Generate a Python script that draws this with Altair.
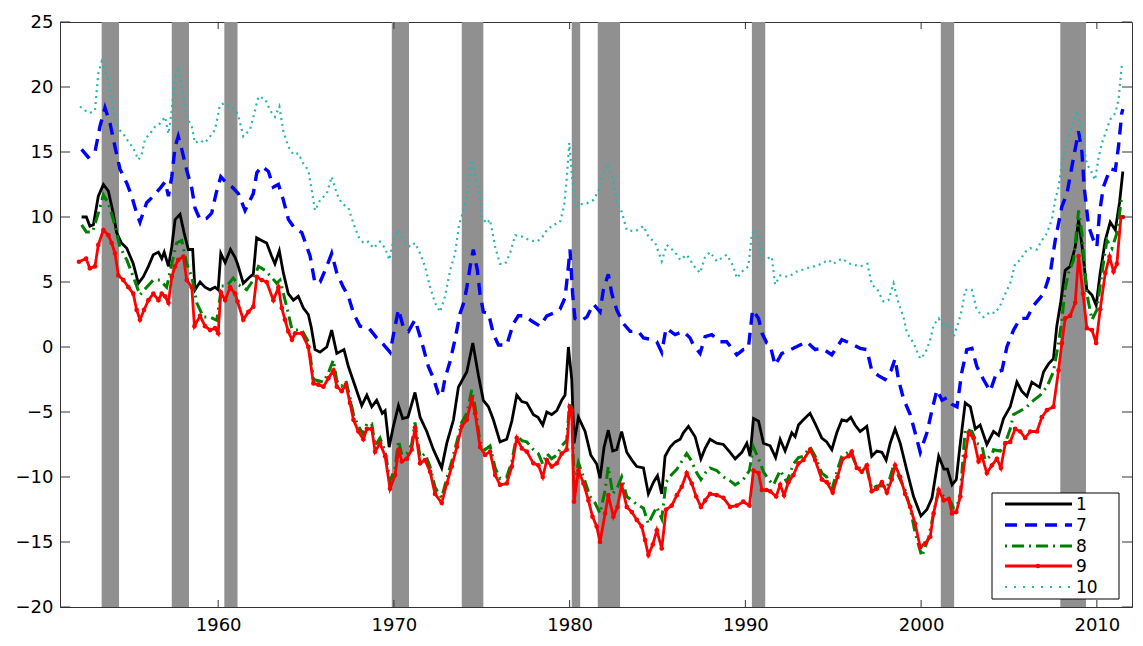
import altair as alt
import pandas as pd

# ---------------- data ----------------
recessions = [(1953.37, 1954.36), (1957.36, 1958.34), (1960.35, 1961.10),
              (1969.88, 1970.86), (1973.86, 1975.09), (1980.12, 1980.60),
              (1981.60, 1982.87), (1990.37, 1991.13), (2001.12, 2001.88),
              (2007.92, 2009.38)]

x_ticks = [1960, 1970, 1980, 1990, 2000, 2010]
y_ticks = [-20, -15, -10, -5, 0, 5, 10, 15, 20, 25]

series_1 = [(1952.23, 10.0), (1952.5, 10.0), (1952.7, 9.3), (1952.9, 9.4), (1953.18, 11.6), (1953.47, 12.5),
            (1953.75, 12.0), (1954.03, 10.3), (1954.22, 8.8), (1954.5, 8.0), (1954.8, 7.6), (1955.17, 6.4),
            (1955.46, 4.9), (1955.74, 5.4), (1956.03, 6.2), (1956.31, 7.1), (1956.6, 7.3), (1956.79, 6.8),
            (1956.93, 7.3), (1957.17, 6.2), (1957.36, 7.7), (1957.55, 9.8), (1957.83, 10.2), (1958.06, 8.8),
            (1958.3, 7.5), (1958.55, 7.5), (1958.68, 4.4), (1958.97, 5.0), (1959.25, 4.6), (1959.54, 4.4),
            (1959.82, 4.6), (1960.0, 4.4), (1960.15, 7.2), (1960.4, 6.5), (1960.7, 7.5), (1960.96, 6.9),
            (1961.1, 6.4), (1961.43, 4.9), (1961.81, 5.4), (1962.0, 5.6), (1962.19, 8.4), (1962.47, 8.2),
            (1962.76, 8.0), (1963.04, 7.0), (1963.23, 6.4), (1963.48, 7.4), (1963.71, 5.7), (1963.99, 4.1),
            (1964.28, 3.6), (1964.56, 3.9), (1964.85, 3.0), (1965.13, 2.5), (1965.3, 1.5), (1965.51, -0.2),
            (1965.8, -0.4), (1966.18, 0.0), (1966.46, 1.3), (1966.75, -0.5), (1967.16, -0.2), (1967.41, -1.5),
            (1967.79, -3.0), (1968.17, -4.5), (1968.46, -3.7), (1968.74, -4.6), (1969.02, -4.1), (1969.34, -5.1),
            (1969.5, -4.9), (1969.73, -7.7), (1969.97, -6.1), (1970.26, -4.5), (1970.5, -5.5), (1970.8, -5.4),
            (1971.2, -3.5), (1971.49, -5.4), (1971.87, -6.5), (1972.25, -7.9), (1972.72, -9.3), (1973.01, -7.4),
            (1973.39, -5.6), (1973.67, -3.1), (1974.15, -1.9), (1974.49, 0.3), (1974.81, -2.2), (1975.09, -4.1),
            (1975.38, -4.6), (1975.66, -5.6), (1976.04, -7.3), (1976.42, -7.1), (1976.71, -5.7), (1976.99, -3.7),
            (1977.28, -4.2), (1977.56, -4.3), (1977.94, -5.2), (1978.2, -5.4), (1978.47, -6.0), (1978.7, -5.0),
            (1978.98, -5.2), (1979.27, -4.9), (1979.55, -4.1), (1979.74, -3.7), (1979.93, 0.0), (1980.12, -2.5),
            (1980.25, -7.4), (1980.5, -5.4), (1980.88, -6.5), (1981.2, -8.3), (1981.54, -9.0), (1981.73, -10.1),
            (1981.96, -7.7), (1982.2, -6.4), (1982.45, -8.0), (1982.68, -7.9), (1982.96, -6.5), (1983.25, -8.1),
            (1983.54, -8.7), (1983.82, -9.2), (1984.2, -9.3), (1984.48, -11.3), (1984.77, -10.4), (1985.0, -9.9),
            (1985.24, -11.3), (1985.43, -8.4), (1985.72, -7.7), (1986.0, -7.3), (1986.29, -7.1), (1986.47, -6.6),
            (1986.76, -6.1), (1987.14, -6.9), (1987.47, -8.6), (1987.71, -7.8), (1987.99, -7.1), (1988.37, -7.4),
            (1988.75, -7.5), (1989.13, -8.1), (1989.42, -8.6), (1989.8, -8.1), (1990.08, -7.4), (1990.27, -8.4),
            (1990.46, -5.5), (1990.75, -5.7), (1991.03, -7.4), (1991.41, -7.6), (1991.72, -8.5), (1991.98, -7.1),
            (1992.26, -8.0), (1992.64, -6.6), (1992.83, -6.9), (1993.02, -6.0), (1993.3, -5.6), (1993.68, -5.1),
            (1993.97, -5.9), (1994.35, -7.0), (1994.63, -7.3), (1994.92, -7.9), (1995.2, -6.6), (1995.49, -5.6),
            (1995.77, -5.7), (1996.0, -5.4), (1996.24, -6.0), (1996.53, -6.5), (1996.91, -6.1), (1997.19, -8.4),
            (1997.48, -8.0), (1997.77, -8.1), (1998.01, -8.7), (1998.24, -7.4), (1998.52, -6.3), (1998.81, -7.4),
            (1999.19, -9.5), (1999.57, -11.5), (1999.99, -13.0), (2000.33, -12.5), (2000.62, -11.6), (2001.0, -8.4),
            (2001.3, -9.4), (2001.5, -9.4), (2001.76, -10.6), (2002.0, -10.2), (2002.23, -7.4), (2002.51, -4.3),
            (2002.8, -4.6), (2003.08, -6.3), (2003.36, -6.0), (2003.74, -7.5), (2004.12, -6.5), (2004.41, -6.8),
            (2004.69, -5.5), (2005.07, -4.6), (2005.45, -2.7), (2005.73, -3.4), (2006.02, -3.8), (2006.3, -2.7),
            (2006.74, -3.1), (2006.97, -1.9), (2007.25, -1.3), (2007.53, -0.9), (2007.72, 1.6), (2007.95, 3.5),
            (2008.2, 5.9), (2008.48, 6.2), (2008.77, 7.7), (2008.96, 9.8), (2009.21, 7.2), (2009.43, 4.4),
            (2009.72, 4.0), (2009.96, 3.2), (2010.19, 5.7), (2010.48, 8.2), (2010.76, 9.6), (2011.05, 9.0),
            (2011.29, 11.1), (2011.48, 13.5)]

series_7 = [(1952.23, 15.2), (1952.6, 14.6), (1952.99, 15.0), (1953.28, 17.0), (1953.56, 18.4), (1953.85, 17.2),
            (1954.13, 15.4), (1954.41, 13.7), (1954.8, 12.6), (1955.08, 11.6), (1955.36, 10.3), (1955.55, 9.6),
            (1955.93, 11.1), (1956.31, 11.6), (1956.69, 12.2), (1956.98, 12.7), (1957.17, 11.6), (1957.36, 13.1),
            (1957.55, 15.4), (1957.73, 16.2), (1957.93, 15.2), (1958.21, 13.6), (1958.5, 12.2), (1958.68, 10.7),
            (1958.97, 9.8), (1959.35, 9.9), (1959.63, 10.3), (1959.88, 11.8), (1960.15, 13.1), (1960.49, 12.6),
            (1960.8, 12.3), (1961.15, 11.8), (1961.53, 10.5), (1962.0, 11.8), (1962.2, 13.4), (1962.48, 13.9),
            (1962.86, 13.5), (1963.14, 12.3), (1963.43, 12.5), (1963.71, 11.3), (1964.0, 9.8), (1964.37, 9.1),
            (1964.76, 8.8), (1965.23, 7.0), (1965.51, 4.9), (1965.8, 5.0), (1966.18, 6.2), (1966.46, 7.2),
            (1966.75, 5.7), (1967.12, 4.6), (1967.41, 3.9), (1967.7, 2.6), (1968.07, 1.6), (1968.55, 1.5),
            (1969.02, 0.7), (1969.4, 0.2), (1969.78, -0.4), (1970.07, 1.6), (1970.26, 2.9), (1970.54, 1.5),
            (1970.83, 1.2), (1971.2, 2.1), (1971.58, 0.4), (1971.96, -1.5), (1972.25, -2.4), (1972.53, -3.6),
            (1972.72, -3.8), (1972.91, -2.4), (1973.2, -1.1), (1973.48, 0.6), (1973.77, 2.6), (1974.0, 3.5),
            (1974.15, 4.6), (1974.34, 6.2), (1974.52, 7.5), (1974.75, 5.9), (1974.9, 4.1), (1975.09, 2.7),
            (1975.38, 2.6), (1975.66, 1.0), (1975.95, 0.15), (1976.42, 0.15), (1976.8, 1.8), (1977.08, 2.4),
            (1977.46, 2.4), (1977.84, 2.0), (1978.32, 1.6), (1978.7, 2.4), (1979.07, 2.6), (1979.45, 2.9),
            (1979.74, 3.8), (1979.93, 6.2), (1980.02, 7.5), (1980.17, 4.1), (1980.3, 2.2), (1980.6, 2.0),
            (1980.98, 2.3), (1981.35, 3.3), (1981.73, 2.7), (1981.92, 4.4), (1982.2, 5.6), (1982.4, 4.1),
            (1982.68, 2.85), (1983.06, 1.8), (1983.44, 1.2), (1983.91, 1.2), (1984.2, 0.7), (1984.58, 0.6),
            (1984.96, 0.4), (1985.24, -0.4), (1985.49, 1.45), (1986.0, 0.95), (1986.47, 1.2), (1986.85, 0.7),
            (1987.04, 0.15), (1987.42, -0.5), (1987.71, 0.8), (1988.09, 0.95), (1988.56, 0.4), (1988.94, 0.4),
            (1989.51, -0.6), (1989.88, -0.2), (1990.17, -0.1), (1990.41, 2.85), (1990.75, 2.2), (1990.95, 1.05),
            (1991.22, 0.3), (1991.41, 0.15), (1991.69, -1.4), (1992.07, -0.5), (1992.73, -0.1), (1993.49, 0.4),
            (1993.97, -0.2), (1994.35, -0.1), (1994.92, -0.6), (1995.49, 0.56), (1995.96, 0.3), (1996.53, -0.1),
            (1996.91, -0.2), (1997.19, -1.8), (1997.57, -2.2), (1997.95, -2.5), (1998.29, -1.8), (1998.52, -0.9),
            (1998.71, -2.5), (1999.0, -4.0), (1999.38, -5.2), (1999.66, -6.6), (1999.95, -8.1), (2000.33, -6.6),
            (2000.62, -4.85), (2000.9, -3.3), (2001.19, -4.1), (2001.47, -3.9), (2001.75, -4.4), (2002.04, -4.6),
            (2002.32, -1.9), (2002.6, -0.2), (2002.89, -0.1), (2003.17, -1.5), (2003.55, -2.5), (2003.93, -3.4),
            (2004.31, -1.9), (2004.6, -1.8), (2004.88, 0.0), (2005.26, 1.3), (2005.64, 2.2), (2006.02, 2.2),
            (2006.4, 3.2), (2006.97, 4.1), (2007.35, 5.7), (2007.63, 8.2), (2008.01, 10.8), (2008.3, 11.8),
            (2008.68, 14.6), (2008.96, 16.6), (2009.15, 15.0), (2009.28, 12.3), (2009.53, 9.3), (2009.81, 8.2),
            (2010.0, 7.7), (2010.15, 10.3), (2010.37, 12.3), (2010.76, 13.7), (2011.05, 13.6), (2011.23, 15.4),
            (2011.42, 18.0), (2011.48, 18.3)]

series_8 = [(1952.23, 9.4), (1952.5, 8.85), (1952.85, 8.85), (1953.18, 10.3), (1953.47, 11.7), (1953.75, 11.05),
            (1954.03, 9.8), (1954.41, 7.7), (1954.8, 6.7), (1955.17, 5.4), (1955.55, 4.0), (1955.93, 4.6),
            (1956.31, 5.15), (1956.69, 5.15), (1957.07, 4.6), (1957.36, 6.4), (1957.64, 8.0), (1957.93, 8.2),
            (1958.21, 6.4), (1958.5, 5.4), (1958.78, 3.4), (1959.16, 2.3), (1959.54, 2.3), (1959.92, 2.05),
            (1960.2, 4.7), (1960.49, 4.7), (1960.86, 5.3), (1961.15, 4.8), (1961.62, 4.4), (1962.0, 5.15),
            (1962.29, 6.2), (1962.67, 5.9), (1962.95, 5.5), (1963.33, 4.9), (1963.52, 5.15), (1963.9, 3.1),
            (1964.19, 1.4), (1964.38, 1.3), (1964.76, 1.3), (1965.13, 0.4), (1965.42, -2.5), (1965.7, -2.6),
            (1965.99, -2.7), (1966.27, -2.0), (1966.56, -1.0), (1966.75, -2.6), (1967.03, -3.0), (1967.27, -2.6),
            (1967.5, -3.9), (1967.7, -5.2), (1967.98, -6.1), (1968.26, -6.7), (1968.46, -5.9), (1968.74, -5.9),
            (1968.93, -7.6), (1969.21, -7.0), (1969.5, -8.0), (1969.78, -10.3), (1970.07, -9.3), (1970.26, -7.2),
            (1970.45, -8.3), (1970.73, -8.2), (1971.01, -7.5), (1971.2, -5.8), (1971.49, -8.5), (1971.77, -8.2),
            (1972.06, -9.2), (1972.34, -10.8), (1972.72, -11.6), (1973.01, -10.1), (1973.29, -8.8), (1973.58, -7.3),
            (1973.86, -5.8), (1974.15, -5.1), (1974.43, -3.3), (1974.62, -4.6), (1974.9, -7.3), (1975.19, -7.9),
            (1975.47, -7.6), (1975.76, -9.3), (1976.04, -10.1), (1976.42, -10.0), (1976.71, -8.8), (1976.99, -6.8),
            (1977.28, -7.2), (1977.56, -7.3), (1977.94, -7.9), (1978.22, -8.2), (1978.47, -9.0), (1978.7, -8.2),
            (1978.98, -8.6), (1979.27, -8.3), (1979.55, -7.6), (1979.83, -7.2), (1980.0, -4.3), (1980.12, -4.6),
            (1980.25, -10.6), (1980.5, -8.9), (1980.79, -10.0), (1981.16, -11.5), (1981.45, -12.0), (1981.73, -12.8),
            (1982.02, -11.0), (1982.2, -9.2), (1982.45, -11.3), (1982.72, -10.8), (1982.96, -10.0), (1983.25, -11.5),
            (1983.54, -11.8), (1983.82, -12.1), (1984.2, -12.4), (1984.48, -13.6), (1984.73, -12.9), (1984.96, -12.3),
            (1985.24, -13.2), (1985.49, -10.4), (1985.81, -9.8), (1986.1, -9.4), (1986.38, -8.8), (1986.66, -8.2),
            (1986.95, -8.8), (1987.2, -9.6), (1987.47, -10.2), (1987.71, -9.7), (1987.99, -9.3), (1988.37, -9.5),
            (1988.75, -10.0), (1989.13, -10.3), (1989.42, -10.6), (1989.88, -10.2), (1990.23, -9.5), (1990.46, -7.7),
            (1990.75, -8.6), (1991.03, -9.6), (1991.32, -10.2), (1991.6, -10.6), (1991.98, -9.5), (1992.36, -10.4),
            (1992.73, -9.0), (1993.02, -8.5), (1993.3, -8.4), (1993.68, -7.7), (1993.97, -8.4), (1994.35, -9.7),
            (1994.63, -10.0), (1994.92, -11.0), (1995.2, -9.6), (1995.49, -8.4), (1995.96, -8.0), (1996.34, -9.2),
            (1996.62, -9.4), (1996.91, -9.4), (1997.19, -10.9), (1997.48, -10.7), (1997.86, -10.7), (1998.05, -10.9),
            (1998.43, -9.1), (1998.81, -10.2), (1999.09, -11.0), (1999.38, -12.4), (1999.66, -14.3), (2000.04, -16.1),
            (2000.42, -14.7), (2000.71, -12.8), (2001.0, -11.0), (2001.28, -11.5), (2001.57, -11.6), (2001.85, -12.4),
            (2002.1, -12.0), (2002.23, -11.3), (2002.51, -6.3), (2002.89, -6.5), (2003.17, -7.4), (2003.46, -7.6),
            (2003.64, -8.7), (2004.03, -8.3), (2004.12, -7.9), (2004.5, -8.0), (2004.79, -7.4), (2005.07, -6.3),
            (2005.26, -5.2), (2005.73, -4.85), (2006.02, -4.6), (2006.4, -4.1), (2006.78, -3.7), (2007.16, -3.05),
            (2007.53, -1.9), (2007.82, 0.3), (2008.01, 2.1), (2008.2, 4.5), (2008.39, 5.7), (2008.68, 6.7),
            (2008.96, 10.5), (2009.15, 8.75), (2009.43, 4.1), (2009.72, 2.1), (2010.0, 2.85), (2010.29, 5.7),
            (2010.57, 8.2), (2010.86, 7.6), (2011.14, 8.75), (2011.42, 11.6)]

series_9 = [(1952.08, 6.56), (1952.48, 6.8), (1952.7, 6.05), (1952.99, 6.2), (1953.18, 7.85), (1953.47, 9.0),
            (1953.75, 8.6), (1953.94, 8.0), (1954.13, 7.2), (1954.32, 5.5), (1954.6, 5.15), (1954.89, 4.6),
            (1955.17, 4.1), (1955.36, 2.85), (1955.55, 2.1), (1955.78, 2.85), (1956.03, 3.6), (1956.31, 4.1),
            (1956.6, 3.6), (1956.79, 4.1), (1956.98, 3.9), (1957.17, 3.4), (1957.36, 5.4), (1957.55, 6.2),
            (1957.73, 6.7), (1958.02, 6.95), (1958.21, 5.15), (1958.5, 4.6), (1958.65, 1.6), (1958.97, 2.4),
            (1959.25, 1.6), (1959.54, 1.3), (1959.82, 1.45), (1960.0, 1.05), (1960.15, 4.2), (1960.4, 3.6),
            (1960.68, 4.6), (1960.96, 4.1), (1961.1, 3.5), (1961.43, 2.1), (1961.72, 2.7), (1962.0, 3.1),
            (1962.2, 5.4), (1962.48, 5.15), (1962.76, 5.0), (1963.14, 3.6), (1963.43, 4.6), (1963.62, 3.0),
            (1963.8, 2.1), (1963.99, 1.2), (1964.2, 0.56), (1964.38, 1.05), (1964.76, 1.05), (1965.13, 0.0),
            (1965.42, -2.8), (1965.7, -2.9), (1965.99, -3.05), (1966.27, -2.4), (1966.56, -1.8), (1966.75, -3.05),
            (1967.03, -3.4), (1967.27, -2.9), (1967.5, -4.3), (1967.7, -5.6), (1967.98, -6.5), (1968.26, -7.1),
            (1968.46, -6.3), (1968.74, -6.3), (1968.93, -8.05), (1969.21, -7.4), (1969.5, -8.4), (1969.78, -10.9),
            (1970.07, -9.85), (1970.26, -7.9), (1970.45, -8.8), (1970.73, -8.6), (1971.01, -7.9), (1971.2, -6.2),
            (1971.49, -8.95), (1971.77, -8.7), (1972.06, -9.6), (1972.34, -11.3), (1972.72, -12.0), (1973.01, -10.5),
            (1973.29, -9.2), (1973.58, -7.7), (1973.86, -6.1), (1974.15, -5.6), (1974.43, -3.95), (1974.62, -5.1),
            (1974.9, -7.7), (1975.19, -8.3), (1975.47, -8.05), (1975.76, -9.85), (1976.04, -10.6), (1976.42, -10.5),
            (1976.71, -9.2), (1976.99, -7.0), (1977.28, -7.8), (1977.56, -8.05), (1977.94, -8.95), (1978.22, -9.1),
            (1978.47, -10.0), (1978.7, -8.7), (1978.98, -9.2), (1979.27, -8.95), (1979.55, -8.2), (1979.83, -7.9),
            (1980.0, -4.6), (1980.12, -4.85), (1980.25, -11.9), (1980.5, -9.5), (1980.79, -10.5), (1981.07, -11.8),
            (1981.3, -13.05), (1981.54, -13.8), (1981.73, -15.0), (1982.02, -12.8), (1982.2, -11.4), (1982.49, -13.05),
            (1982.72, -12.3), (1982.96, -10.6), (1983.25, -12.3), (1983.54, -12.7), (1983.82, -13.3), (1984.1, -13.8),
            (1984.29, -14.85), (1984.48, -16.0), (1984.73, -15.2), (1984.96, -14.1), (1985.24, -15.5), (1985.49, -12.5),
            (1985.81, -12.2), (1986.1, -11.4), (1986.38, -10.75), (1986.66, -9.7), (1986.95, -10.5), (1987.2, -11.5),
            (1987.47, -12.3), (1987.71, -11.8), (1987.99, -11.3), (1988.37, -11.4), (1988.75, -11.6), (1989.13, -12.3),
            (1989.51, -12.2), (1989.88, -11.9), (1990.23, -12.2), (1990.46, -9.5), (1990.75, -9.7), (1990.94, -11.0),
            (1991.2, -11.0), (1991.41, -11.1), (1991.75, -11.5), (1991.98, -10.6), (1992.2, -11.4), (1992.45, -10.4),
            (1992.73, -9.85), (1993.02, -8.95), (1993.3, -8.7), (1993.68, -7.9), (1993.97, -8.7), (1994.35, -10.2),
            (1994.63, -10.4), (1994.97, -11.2), (1995.24, -10.0), (1995.54, -8.6), (1995.87, -8.4), (1996.05, -8.05),
            (1996.34, -9.3), (1996.62, -9.6), (1996.91, -9.1), (1997.19, -11.1), (1997.48, -10.9), (1997.77, -10.4),
            (1998.05, -11.2), (1998.33, -10.2), (1998.52, -9.1), (1998.81, -10.0), (1999.09, -11.3), (1999.38, -12.3),
            (1999.66, -13.6), (1999.95, -15.4), (2000.23, -15.1), (2000.52, -14.6), (2000.71, -12.8), (2001.0, -11.0),
            (2001.28, -11.8), (2001.57, -11.7), (2001.76, -12.8), (2002.0, -12.7), (2002.23, -11.5), (2002.51, -8.4),
            (2002.7, -6.6), (2002.98, -7.0), (2003.27, -8.8), (2003.46, -8.4), (2003.74, -9.7), (2004.03, -9.1),
            (2004.31, -8.6), (2004.54, -9.3), (2004.79, -7.4), (2005.07, -7.3), (2005.35, -6.3), (2005.64, -6.5),
            (2005.92, -7.0), (2006.21, -6.5), (2006.59, -6.5), (2006.87, -5.4), (2007.16, -4.85), (2007.53, -4.6),
            (2007.82, -1.8), (2008.01, 0.3), (2008.2, 2.2), (2008.48, 2.4), (2008.77, 3.4), (2008.96, 7.0),
            (2009.21, 4.1), (2009.43, 1.45), (2009.72, 1.3), (2009.96, 0.3), (2010.19, 2.9), (2010.48, 5.7),
            (2010.72, 6.95), (2010.95, 5.8), (2011.14, 6.4), (2011.37, 10.0), (2011.48, 10.0)]

series_10 = [(1952.14, 18.5), (1952.42, 18.2), (1952.7, 18.0), (1952.99, 18.2), (1953.18, 21.05), (1953.37, 21.95),
             (1953.56, 21.3), (1953.75, 20.5), (1954.03, 18.2), (1954.32, 16.8), (1954.6, 16.4), (1954.89, 15.8),
             (1955.17, 15.3), (1955.46, 14.4), (1955.65, 14.8), (1955.84, 16.0), (1956.12, 16.4), (1956.41, 16.95),
             (1956.69, 17.2), (1956.98, 17.7), (1957.17, 16.4), (1957.36, 18.2), (1957.55, 20.8), (1957.73, 21.3),
             (1957.93, 20.0), (1958.21, 17.7), (1958.5, 16.95), (1958.68, 15.7), (1958.97, 15.9), (1959.25, 15.7),
             (1959.54, 16.2), (1959.82, 16.7), (1960.1, 18.6), (1960.33, 18.75), (1960.68, 18.5), (1960.96, 18.3),
             (1961.15, 17.8), (1961.43, 16.2), (1961.81, 16.7), (1962.1, 18.2), (1962.29, 19.26), (1962.67, 19.1),
             (1962.95, 18.2), (1963.23, 17.7), (1963.48, 18.5), (1963.71, 16.6), (1964.0, 15.4), (1964.28, 14.8),
             (1964.56, 14.9), (1964.85, 14.1), (1965.13, 13.6), (1965.32, 12.1), (1965.51, 10.5), (1965.8, 11.3),
             (1966.18, 11.8), (1966.46, 13.1), (1966.75, 11.8), (1967.03, 11.05), (1967.41, 10.7), (1967.7, 9.5),
             (1967.98, 8.5), (1968.26, 8.0), (1968.55, 8.1), (1968.83, 7.6), (1969.21, 8.1), (1969.5, 7.6),
             (1969.74, 6.7), (1969.97, 8.2), (1970.26, 9.0), (1970.54, 8.2), (1970.92, 7.7), (1971.2, 8.0),
             (1971.49, 7.2), (1971.77, 6.2), (1972.06, 4.6), (1972.34, 3.4), (1972.63, 2.7), (1972.91, 3.9),
             (1973.2, 5.9), (1973.48, 7.2), (1973.72, 9.5), (1973.96, 10.5), (1974.24, 12.3), (1974.43, 14.4),
             (1974.62, 13.4), (1974.81, 12.3), (1975.0, 10.0), (1975.28, 9.5), (1975.47, 9.8), (1975.76, 7.7),
             (1976.04, 6.4), (1976.33, 6.4), (1976.61, 7.2), (1976.9, 8.6), (1977.28, 8.5), (1977.75, 8.2),
             (1978.13, 8.1), (1978.42, 8.4), (1978.7, 9.0), (1979.08, 9.4), (1979.45, 9.6), (1979.68, 10.8),
             (1979.83, 12.85), (1979.98, 15.7), (1980.12, 13.4), (1980.31, 10.8), (1980.69, 11.0), (1980.98, 11.05),
             (1981.35, 11.3), (1981.64, 12.0), (1981.92, 13.4), (1982.2, 14.1), (1982.49, 12.7), (1982.68, 11.05),
             (1982.96, 10.4), (1983.25, 9.0), (1983.73, 8.9), (1984.2, 9.3), (1984.48, 8.5), (1984.87, 8.0),
             (1985.24, 6.6), (1985.53, 7.85), (1986.0, 7.3), (1986.29, 6.7), (1986.66, 7.1), (1987.04, 6.3),
             (1987.42, 5.7), (1987.71, 6.95), (1987.99, 7.3), (1988.37, 6.6), (1988.94, 7.1), (1989.32, 6.2),
             (1989.51, 5.3), (1989.88, 5.9), (1990.17, 6.2), (1990.37, 8.75), (1990.65, 9.0), (1990.94, 6.7),
             (1991.22, 6.8), (1991.5, 6.95), (1991.69, 4.8), (1991.98, 5.5), (1992.45, 5.4), (1992.92, 5.8),
             (1993.49, 6.05), (1994.16, 6.3), (1994.73, 6.7), (1995.0, 6.4), (1995.49, 6.8), (1995.96, 6.4),
             (1996.53, 6.2), (1996.95, 6.4), (1997.19, 4.8), (1997.48, 4.5), (1997.86, 3.5), (1998.14, 3.6),
             (1998.43, 4.9), (1998.71, 3.4), (1999.0, 2.3), (1999.19, 1.1), (1999.57, 0.3), (1999.95, -0.9),
             (2000.23, -0.5), (2000.52, 0.56), (2000.71, 1.7), (2001.0, 2.2), (2001.28, 1.56), (2001.57, 1.8),
             (2001.85, 0.8), (2002.1, 1.8), (2002.32, 2.85), (2002.51, 4.4), (2002.89, 4.4), (2003.17, 2.85),
             (2003.55, 2.3), (2003.93, 2.7), (2004.21, 2.6), (2004.5, 3.2), (2004.79, 4.1), (2005.07, 4.9),
             (2005.35, 6.4), (2005.64, 6.7), (2005.92, 7.3), (2006.21, 7.6), (2006.59, 7.5), (2006.87, 8.2),
             (2007.16, 8.75), (2007.44, 9.8), (2007.63, 11.3), (2007.82, 12.3), (2008.01, 14.1), (2008.3, 15.7),
             (2008.58, 16.95), (2008.87, 18.2), (2009.06, 16.95), (2009.25, 15.4), (2009.43, 14.1), (2009.72, 13.4),
             (2009.9, 12.85), (2010.1, 14.6), (2010.29, 15.7), (2010.48, 16.4), (2010.76, 17.5), (2011.05, 18.0),
             (2011.23, 19.0), (2011.42, 21.7), (2011.48, 21.6)]

series_names = ["1", "7", "8", "9", "10"]
series_colors = ["#000000", "#0000ff", "#008000", "#ff0000", "#2ab5b0"]

# ---------------- chart ----------------
W, H = 1072, 585
FONT = "DejaVu Sans"
AX = "#333333"

xscale = alt.Scale(domain=[1951, 2012], nice=False, zero=False)
yscale = alt.Scale(domain=[-20, 25], nice=False, zero=False)

x_axis = alt.Axis(values=x_ticks, format="d", tickSize=0, labelFont=FONT, labelFontSize=18,
                  labelColor="#000", labelPadding=9, domainColor=AX, grid=False, title=None)
y_axis = alt.Axis(values=y_ticks, format="d", tickSize=0, labelFont=FONT, labelFontSize=18,
                  labelColor="#000", labelPadding=7, domainColor=AX, grid=False, title=None)

rec_df = pd.DataFrame(recessions, columns=["start", "end"])
bands = alt.Chart(rec_df).mark_rect(color="#909090").encode(
    x=alt.X("start:Q", scale=xscale, axis=x_axis),
    x2="end:Q",
    y=alt.value(0),
    y2=alt.value(H),
)

def frame(data):
    return pd.DataFrame(data, columns=["year", "value"])

enc = dict(x=alt.X("year:Q", scale=xscale), y=alt.Y("value:Q", scale=yscale, axis=y_axis))

l1 = alt.Chart(frame(series_1)).mark_line(color=series_colors[0], strokeWidth=2.8).encode(**enc)
l7 = alt.Chart(frame(series_7)).mark_line(color=series_colors[1], strokeWidth=3.4,
                                          strokeDash=[12, 8]).encode(**enc)
l8 = alt.Chart(frame(series_8)).mark_line(color=series_colors[2], strokeWidth=3,
                                          strokeDash=[12, 5, 2, 5]).encode(**enc)
l9 = alt.Chart(frame(series_9)).mark_line(
    color=series_colors[3], strokeWidth=2.8,
    point=alt.OverlayMarkDef(filled=True, size=22, color=series_colors[3], opacity=1)).encode(**enc)
l10 = alt.Chart(frame(series_10)).mark_line(color=series_colors[4], strokeWidth=2.2,
                                            strokeDash=[2, 4]).encode(**enc)

# inward ticks on all four sides
xt = pd.DataFrame({"t": x_ticks})
yt = pd.DataFrame({"t": y_ticks})
tick_b = alt.Chart(xt).mark_rule(color=AX).encode(x=alt.X("t:Q", scale=xscale), y=alt.value(H), y2=alt.value(H - 7))
tick_t = alt.Chart(xt).mark_rule(color=AX).encode(x=alt.X("t:Q", scale=xscale), y=alt.value(0), y2=alt.value(7))
tick_l = alt.Chart(yt).mark_rule(color=AX).encode(y=alt.Y("t:Q", scale=yscale), x=alt.value(0), x2=alt.value(10))
tick_r = alt.Chart(yt).mark_rule(color=AX).encode(y=alt.Y("t:Q", scale=yscale), x=alt.value(W), x2=alt.value(W - 10))

# legend (manual, MATLAB style)
one = pd.DataFrame({"k": [0]})
leg_layers = [alt.Chart(one).mark_rect(fill="white", stroke="#000", strokeWidth=1).encode(
    x=alt.value(932), x2=alt.value(1059), y=alt.value(471), y2=alt.value(577))]
row_y = [482, 503, 524, 544, 565]
dashes = [None, [12, 8], [2, 5, 12, 5], None, [2, 7]]
widths = [2.8, 3.4, 3, 2.8, 2.2]
for name, col, yy, dsh, wd in zip(series_names, series_colors, row_y, dashes, widths):
    kw = dict(color=col, strokeWidth=wd)
    if dsh is not None:
        kw["strokeDash"] = dsh
    leg_layers.append(alt.Chart(one).mark_rule(**kw).encode(
        x=alt.value(945), x2=alt.value(1012), y=alt.value(yy)))
    leg_layers.append(alt.Chart(one).mark_text(text=name, align="left", baseline="middle",
                                              font=FONT, fontSize=17, color="#000").encode(
        x=alt.value(1016), y=alt.value(yy + 1)))
leg_layers.append(alt.Chart(one).mark_point(filled=True, size=22, color=series_colors[3], opacity=1).encode(
    x=alt.value(978), y=alt.value(row_y[3])))

chart = alt.layer(bands, l1, l7, l8, l9, l10, tick_b, tick_t, tick_l, tick_r, *leg_layers).properties(
    width=W, height=H,
    autosize=alt.AutoSizeParams(type="none"),
    padding={"left": 52, "top": 14, "right": 3, "bottom": 30},
    background="white",
).configure_view(stroke=AX, strokeWidth=1)

chart.save("out.html", embed_options={"renderer": "svg", "actions": False})
